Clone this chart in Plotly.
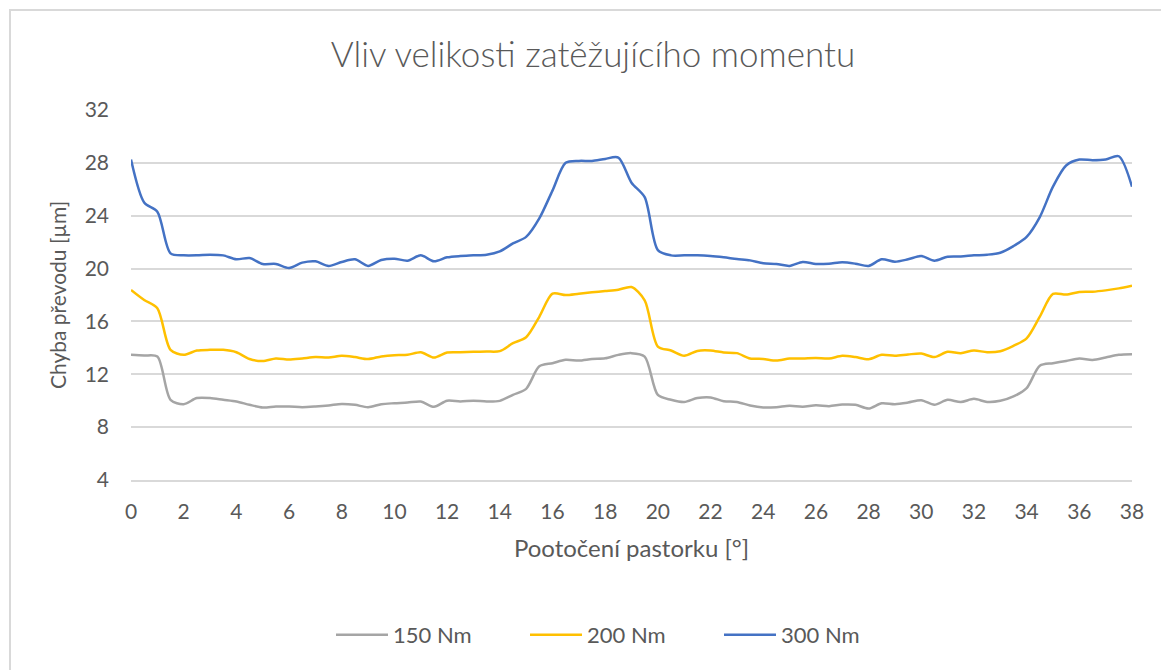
import plotly.graph_objects as go

# Pinion rotation angle [deg]
angle = [i * 0.5 for i in range(77)]

# Transmission error [um] for each load torque
err_150 = [13.47, 13.42, 13.34, 10.07, 9.74, 10.2, 10.2, 10.07, 9.94, 9.69,
           9.49, 9.56, 9.56, 9.51, 9.56, 9.64, 9.76, 9.69, 9.51, 9.74,
           9.81, 9.86, 9.94, 9.54, 10.0, 9.94, 10.0, 9.94, 9.99, 10.44,
           10.9, 12.6, 12.84, 13.1, 13.04, 13.16, 13.21, 13.47, 13.6, 13.34,
           10.44, 10.07, 9.9, 10.2, 10.25, 9.96, 9.91, 9.64, 9.49, 9.51,
           9.61, 9.54, 9.66, 9.59, 9.71, 9.69, 9.41, 9.81, 9.74, 9.86,
           10.04, 9.69, 10.07, 9.9, 10.14, 9.91, 9.99, 10.32, 10.95, 12.65,
           12.84, 13.01, 13.19, 13.09, 13.27, 13.47, 13.52]

err_200 = [18.38, 17.62, 17.0, 13.85, 13.47, 13.8, 13.85, 13.85, 13.67, 13.16,
           13.0, 13.2, 13.12, 13.2, 13.3, 13.27, 13.4, 13.3, 13.15, 13.35,
           13.45, 13.47, 13.67, 13.27, 13.65, 13.67, 13.7, 13.72, 13.75, 14.35,
           14.8, 16.35, 18.1, 18.0, 18.1, 18.2, 18.3, 18.4, 18.6, 17.6,
           14.1, 13.8, 13.4, 13.77, 13.8, 13.65, 13.6, 13.2, 13.16, 13.04,
           13.19, 13.2, 13.24, 13.19, 13.4, 13.3, 13.14, 13.47, 13.4, 13.5,
           13.57, 13.3, 13.7, 13.6, 13.8, 13.67, 13.75, 14.15, 14.72, 16.36,
           18.08, 18.03, 18.23, 18.25, 18.35, 18.5, 18.7]

err_300 = [28.25, 25.0, 24.3, 21.15, 21.0, 21.0, 21.05, 21.0, 20.7, 20.8,
           20.35, 20.35, 20.05, 20.45, 20.55, 20.2, 20.5, 20.7, 20.2, 20.65,
           20.75, 20.6, 21.0, 20.55, 20.85, 20.95, 21.0, 21.05, 21.3, 21.9,
           22.4, 23.8, 25.9, 28.0, 28.15, 28.15, 28.3, 28.4, 26.5, 25.4,
           21.4, 21.0, 21.0, 21.0, 20.95, 20.85, 20.72, 20.62, 20.4, 20.35,
           20.2, 20.5, 20.35, 20.37, 20.47, 20.37, 20.2, 20.7, 20.52, 20.7,
           20.95, 20.6, 20.9, 20.92, 21.0, 21.05, 21.2, 21.7, 22.4, 23.9,
           26.2, 27.8, 28.25, 28.2, 28.25, 28.5, 26.2]

series = [("150 Nm", err_150, "#a5a5a5"),
          ("200 Nm", err_200, "#ffc000"),
          ("300 Nm", err_300, "#4472c4")]

x_ticks = list(range(0, 39, 2))
y_ticks = list(range(4, 33, 4))

FONT = "Lato"
TXT = "#595959"

fig = go.Figure()
for name, vals, color in series:
    fig.add_trace(go.Scatter(
        x=angle, y=vals, name=name, mode="lines",
        line=dict(color=color, width=2.5, shape="spline", smoothing=0.8),
    ))

W, H = 1161, 670
L, R, T, B = 131, 29, 110, 190
pw, ph = W - L - R, H - T - B

def px_x(p):
    return (p - L) / pw

def px_y(p):
    return (H - B - p) / ph

fig.update_layout(
    width=W, height=H,
    margin=dict(l=L, r=R, t=T, b=B),
    paper_bgcolor="white", plot_bgcolor="white",
    font=dict(family=FONT, color=TXT),
    title=dict(text="Vliv velikosti zatěžujícího momentu",
               x=593 / W, xanchor="center", y=1 - 55 / H, yanchor="middle",
               font=dict(size=35, color=TXT, family=FONT, weight=300)),
    xaxis=dict(range=[0, 38], tickvals=x_ticks, showgrid=False,
               showline=True, linecolor="#d9d9d9", linewidth=1.5,
               ticks="", tickfont=dict(size=21, color=TXT), ticklabelstandoff=12,
               title=dict(text="Pootočení pastorku [°]", font=dict(size=24, color=TXT),
                          standoff=18),
               zeroline=False),
    yaxis=dict(range=[4, 32], tickvals=y_ticks, showgrid=True,
               gridcolor="#d9d9d9", gridwidth=1.5, ticks="",
               tickfont=dict(size=21, color=TXT), ticklabelstandoff=21,
               title=dict(text="Chyba převodu [µm]", font=dict(size=21, color=TXT),
                          standoff=12),
               zeroline=False, showline=False),
    legend=dict(orientation="h", x=px_x(331), xanchor="left",
                y=px_y(635), yanchor="middle",
                font=dict(size=22, color=TXT), itemwidth=52,
                entrywidth=127, entrywidthmode="pixels"),
    shapes=[dict(type="rect", xref="paper", yref="paper",
                 x0=px_x(10), x1=px_x(1175), y0=px_y(690), y1=px_y(10),
                 line=dict(color="#d9d9d9", width=2), layer="below")],
)

fig.write_html("out.html")
